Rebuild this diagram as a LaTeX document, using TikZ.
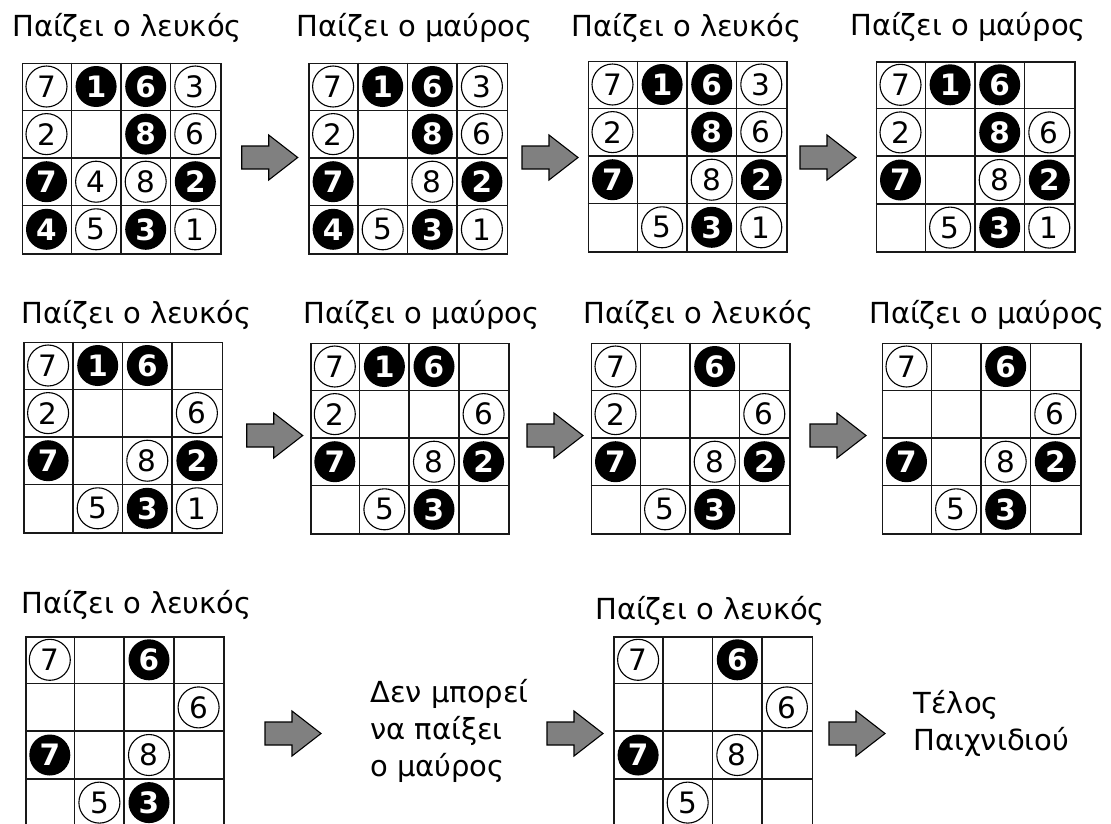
\documentclass[tikz,border=0pt]{standalone}
\usepackage{fontspec}
\setmainfont{DejaVu Sans}
\usetikzlibrary{calc}

\newcommand\labelsize{\fontsize{29}{36}\selectfont}
\newcommand\digitsize{\fontsize{29.5}{30}\selectfont}

\tikzset{
  gridline/.style={line width=1.6pt, draw=black!90},
  boardframe/.style={rectangle, gridline, minimum width=198.4pt, minimum height=190.4pt, inner sep=0pt},
  stone-w/.style={circle, draw=black, line width=1.1pt, fill=white, minimum size=41pt, inner sep=0pt, font=\digitsize},
  stone-b/.style={circle, fill=black, text=white, minimum size=41pt, inner sep=0pt, font=\digitsize\bfseries},
  caption/.style={anchor=base west, inner sep=0pt, font=\labelsize},
  arrowbody/.style={fill=black!50, draw=black, line width=1.1pt, line join=miter},
  pics/movearrow/.style={code={
    \draw[arrowbody] (0,-11.5) -- (27,-11.5) -- (27,-22.5) -- (56,0)
      -- (27,22.5) -- (27,11.5) -- (0,11.5) -- cycle;
  }},
}

% #1 board name, #2 left, #3 top, #4 stones as column/row/colour/number
\newcommand\gameboard[4]{%
  \node[boardframe, anchor=north west] (#1) at (#2,#3) {};
  \foreach \i in {1,2,3} {
    \draw[gridline] ($(#1.north west)+(\i*49.6,0)$) -- ++(0,190.4);
    \draw[gridline] ($(#1.north west)+(0,\i*47.6)$) -- ++(198.4,0);
  }
  \foreach \c/\r/\k/\n in {#4} {
    \node[stone-\k] (#1-\r\c) at ($(#1.north west)+(\c*49.6-24.8,\r*47.6-23.8)$) {\n};
  }%
}

\begin{document}
\begin{tikzpicture}[x=1pt,y=-1pt]
\useasboundingbox[fill=white] (0,0) rectangle (1111,823);

% ---- first row ----
\node[caption] (c1) at (12,36) {Παίζει ο λευκός};
\gameboard{b1}{21.7}{62.7}{1/1/w/7,2/1/b/1,3/1/b/6,4/1/w/3,
  1/2/w/2,3/2/b/8,4/2/w/6,
  1/3/b/7,2/3/w/4,3/3/w/8,4/3/b/2,
  1/4/b/4,2/4/w/5,3/4/b/3,4/4/w/1}
\pic (a1) at (241.7,157.5) {movearrow};

\node[caption] (c2) at (296.7,36) {Παίζει ο μαύρος};
\gameboard{b2}{308.3}{62.7}{1/1/w/7,2/1/b/1,3/1/b/6,4/1/w/3,
  1/2/w/2,3/2/b/8,4/2/w/6,
  1/3/b/7,3/3/w/8,4/3/b/2,
  1/4/b/4,2/4/w/5,3/4/b/3,4/4/w/1}
\pic (a2) at (522,157.5) {movearrow};

\node[caption] (c3) at (571.7,36) {Παίζει ο λευκός};
\gameboard{b3}{587.7}{60.7}{1/1/w/7,2/1/b/1,3/1/b/6,4/1/w/3,
  1/2/w/2,3/2/b/8,4/2/w/6,
  1/3/b/7,3/3/w/8,4/3/b/2,
  2/4/w/5,3/4/b/3,4/4/w/1}
\pic (a3) at (800,157.5) {movearrow};

\node[caption] (c4) at (850,35.5) {Παίζει ο μαύρος};
\gameboard{b4}{875.7}{61}{1/1/w/7,2/1/b/1,3/1/b/6,
  1/2/w/2,3/2/b/8,4/2/w/6,
  1/3/b/7,3/3/w/8,4/3/b/2,
  2/4/w/5,3/4/b/3,4/4/w/1}

% ---- second row ----
\node[caption] (c5) at (21.7,323) {Παίζει ο λευκός};
\gameboard{b5}{23.3}{341.7}{1/1/w/7,2/1/b/1,3/1/b/6,
  1/2/w/2,4/2/w/6,
  1/3/b/7,3/3/w/8,4/3/b/2,
  2/4/w/5,3/4/b/3,4/4/w/1}
\pic (a4) at (246.7,435.5) {movearrow};

\node[caption] (c6) at (303.3,323) {Παίζει ο μαύρος};
\gameboard{b6}{310}{342.7}{1/1/w/7,2/1/b/1,3/1/b/6,
  1/2/w/2,4/2/w/6,
  1/3/b/7,3/3/w/8,4/3/b/2,
  2/4/w/5,3/4/b/3}
\pic (a5) at (527,435.5) {movearrow};

\node[caption] (c7) at (583.3,323) {Παίζει ο λευκός};
\gameboard{b7}{590.7}{342.7}{1/1/w/7,3/1/b/6,
  1/2/w/2,4/2/w/6,
  1/3/b/7,3/3/w/8,4/3/b/2,
  2/4/w/5,3/4/b/3}
\pic (a6) at (810,435.5) {movearrow};

\node[caption] (c8) at (869,323) {Παίζει ο μαύρος};
\gameboard{b8}{881.7}{342.7}{1/1/w/7,3/1/b/6,
  4/2/w/6,
  1/3/b/7,3/3/w/8,4/3/b/2,
  2/4/w/5,3/4/b/3}

% ---- third row ----
\node[caption] (c9) at (21.7,613) {Παίζει ο λευκός};
\gameboard{b9}{25}{636}{1/1/w/7,3/1/b/6,
  4/2/w/6,
  1/3/b/7,3/3/w/8,
  2/4/w/5,3/4/b/3}
\pic (a7) at (265,733.5) {movearrow};

\node[caption] (n1) at (370,702.5) {Δεν μπορεί};
\node[caption] (n2) at (370,739.5) {να παίξει};
\node[caption] (n3) at (370,776.5) {ο μαύρος};
\pic (a8) at (547,733.5) {movearrow};

\node[caption] (c10) at (595,619) {Παίζει ο λευκός};
\gameboard{b10}{613.3}{636}{1/1/w/7,3/1/b/6,
  4/2/w/6,
  1/3/b/7,3/3/w/8,
  2/4/w/5}
\pic (a9) at (829,733.5) {movearrow};

\node[caption] (e1) at (913.3,713.3) {Τέλος};
\node[caption] (e2) at (913.3,750) {Παιχνιδιού};
\end{tikzpicture}
\end{document}
